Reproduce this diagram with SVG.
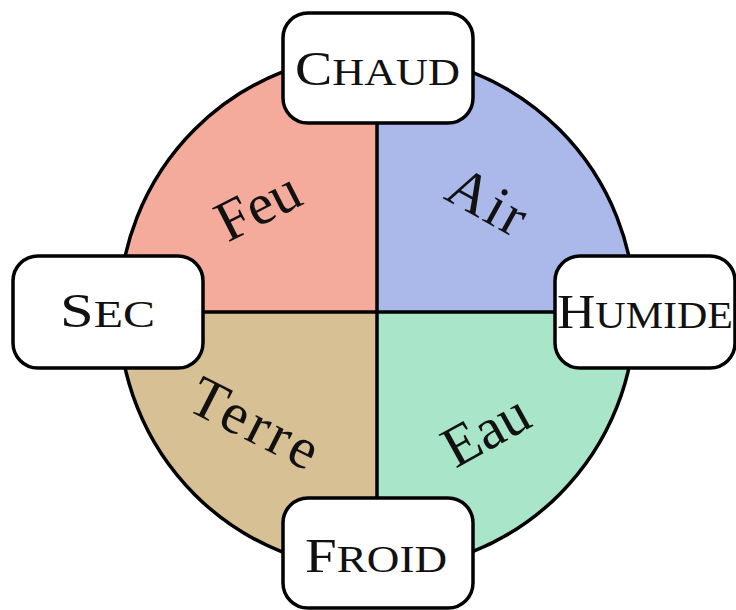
<svg xmlns="http://www.w3.org/2000/svg" width="736" height="610" viewBox="0 0 736 610">
<style>
.q{stroke:none}
.ln{stroke:#000;stroke-width:3.5;fill:none}
.box{fill:#fff;stroke:#000;stroke-width:3.5}
.cap{font-family:"Liberation Serif","DejaVu Serif",serif;fill:#111}
.big{font-size:48px}
.sm{font-size:38px}
.el{font-family:"Liberation Serif","DejaVu Serif",serif;font-size:58px;fill:#111;text-anchor:middle}
</style>
<rect width="736" height="610" fill="#fff"/>
<g id="quadrants">
<path class="q" d="M377,312 L377,54 A258,258 0 0 0 119,312 Z" fill="#f5ab9c"/>
<path class="q" d="M377,312 L635,312 A258,258 0 0 0 377,54 Z" fill="#abb8ea"/>
<path class="q" d="M377,312 L119,312 A258,258 0 0 0 377,570 Z" fill="#d7c194"/>
<path class="q" d="M377,312 L377,570 A258,258 0 0 0 635,312 Z" fill="#a9e5c9"/>
</g>
<g id="connectors">
<line class="ln" x1="377" y1="54" x2="377" y2="570"/>
<line class="ln" x1="119" y1="312" x2="635" y2="312"/>
<circle class="ln" cx="377" cy="312" r="258"/>
</g>
<g id="labels">
<text class="el" x="266.5" y="223" transform="rotate(-27 266.5 223)">Feu</text>
<text class="el" x="478" y="218" transform="rotate(29 478 218)" textLength="82" lengthAdjust="spacing">Air</text>
<text class="el" x="246" y="440" transform="rotate(27 246 440)" textLength="137" lengthAdjust="spacing">Terre</text>
<text class="el" x="495" y="447" transform="rotate(-29 495 447)">Eau</text>
</g>
<g id="chaud">
<rect class="box" x="283" y="13" width="190" height="110" rx="25"/>
<text class="cap" x="295" y="85" textLength="165" lengthAdjust="spacingAndGlyphs"><tspan class="big">C</tspan><tspan class="sm">HAUD</tspan></text>
</g>
<g id="sec">
<rect class="box" x="13" y="256" width="190" height="112" rx="25"/>
<text class="cap" x="60" y="327" textLength="95" lengthAdjust="spacingAndGlyphs"><tspan class="big">S</tspan><tspan class="sm">EC</tspan></text>
</g>
<g id="humide">
<rect class="box" x="555" y="256" width="180" height="112" rx="25"/>
<text class="cap" x="557" y="328" textLength="176" lengthAdjust="spacingAndGlyphs"><tspan class="big">H</tspan><tspan class="sm">UMIDE</tspan></text>
</g>
<g id="froid">
<rect class="box" x="283" y="498" width="190" height="110" rx="25"/>
<text class="cap" x="305" y="572" textLength="142" lengthAdjust="spacingAndGlyphs"><tspan class="big">F</tspan><tspan class="sm">ROID</tspan></text>
</g>
</svg>
